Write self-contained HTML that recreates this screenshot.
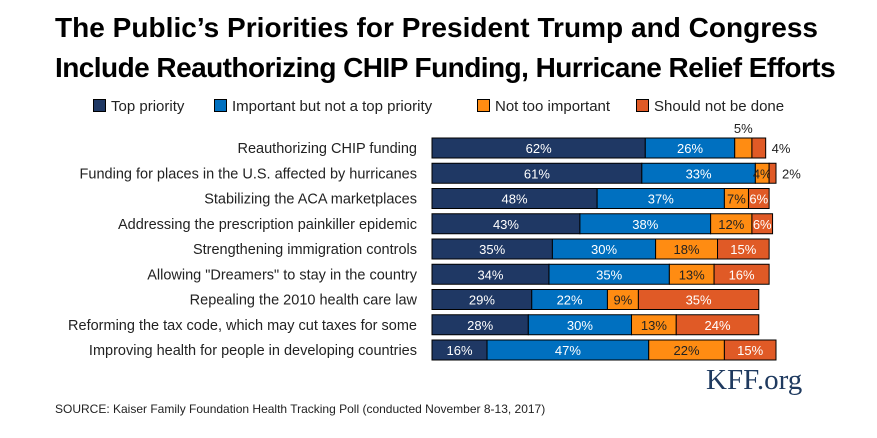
<!DOCTYPE html>
<html><head><meta charset="utf-8"><style>
body{margin:0;background:#fff;width:877px;height:438px;overflow:hidden;font-family:"Liberation Sans",sans-serif;position:relative}
.t{position:absolute;left:55px;top:8px;font-size:28px;font-weight:bold;line-height:40px;color:#000;white-space:nowrap}
.lg{position:absolute;top:98px;font-size:15px;color:#222}
.lg span{display:inline-block;width:11px;height:11px;border:1px solid #000;margin-right:5px;vertical-align:-1px}
.src{position:absolute;left:55px;top:402px;font-size:12px;color:#222}
.kff{position:absolute;left:706px;top:364px;font-family:"Liberation Serif",serif;font-size:29px;color:#1f3a5f}
</style></head><body>
<div class="t"><span style="letter-spacing:0.03px">The Public’s Priorities for President Trump and Congress</span><br><span style="letter-spacing:-0.55px">Include Reauthorizing CHIP Funding, Hurricane Relief Efforts</span></div>
<div class="lg" style="left:93px"><span style="background:#1f3864"></span>Top priority</div>
<div class="lg" style="left:214px"><span style="background:#0070c0"></span>Important but not a top priority</div>
<div class="lg" style="left:477px"><span style="background:#ff8c12"></span>Not too important</div>
<div class="lg" style="left:636px"><span style="background:#e05a26"></span>Should not be done</div>
<svg id="c" width="877" height="438" style="position:absolute;left:0;top:0"></svg>
<div class="kff">KFF.org</div>
<div class="src">SOURCE: Kaiser Family Foundation Health Tracking Poll (conducted November 8-13, 2017)</div>
<script>
const categories=["Reauthorizing CHIP funding","Funding for places in the U.S. affected by hurricanes","Stabilizing the ACA marketplaces","Addressing the prescription painkiller epidemic","Strengthening immigration controls","Allowing \"Dreamers\" to stay in the country","Repealing the 2010 health care law","Reforming the tax code, which may cut taxes for some","Improving health for people in developing countries"];
const topPriority=[62,61,48,43,35,34,29,28,16];
const important=[26,33,37,38,30,35,22,30,47];
const notTooImportant=[5,4,7,12,18,13,9,13,22];
const shouldNotBeDone=[4,2,6,6,15,16,35,24,15];
const series=[topPriority,important,notTooImportant,shouldNotBeDone];
const names=["top-priority","important","not-too-important","should-not-be-done"];
const colors=["#1f3864","#0070c0","#ff8c12","#e05a26"];
const txtColors=["#fff","#fff","#222","#fff"];
const x0=432,pxPer=3.44,y0=138,step=25.25,bh=20;
const xs=v=>v*pxPer, ys=i=>y0+i*step;
const svg=document.getElementById('c');const NS="http://www.w3.org/2000/svg";
function mk(t,a){const e=document.createElementNS(NS,t);for(const k in a)e.setAttribute(k,a[k]);svg.appendChild(e);return e;}
categories.forEach((c,i)=>{
  const y=ys(i);
  const l=mk('text',{x:417,y:y+bh/2+5,'text-anchor':'end','font-size':'14.5',fill:'#222','font-family':'Liberation Sans, sans-serif'});
  l.textContent=c;
  
  
  let cum=0;
  series.forEach((s,k)=>{
    const v=s[i],x=x0+xs(cum),w=xs(v);
    const r=mk('rect',{x:x,y:y,width:w,height:bh,fill:colors[k],stroke:'#000','stroke-width':1});
    
    
    const small=w<20;
    let tx,ty,fill=txtColors[k],anchor='middle';
    if(small&&k==3){tx=x+w+6;ty=y+bh/2+5;fill='#222';anchor='start';}
    else if(small&&k==2&&v<=5&&i==0){tx=x+w/2;ty=y-5;fill='#222';}
    else {tx=x+w/2;ty=y+bh/2+5;}
    const t=mk('text',{x:tx,y:ty,'text-anchor':anchor,'font-size':'13',fill:fill,'font-family':'Liberation Sans, sans-serif'});
    t.textContent=v+'%';
    
    
    cum+=v;
  });
});
</script>
</body></html>
